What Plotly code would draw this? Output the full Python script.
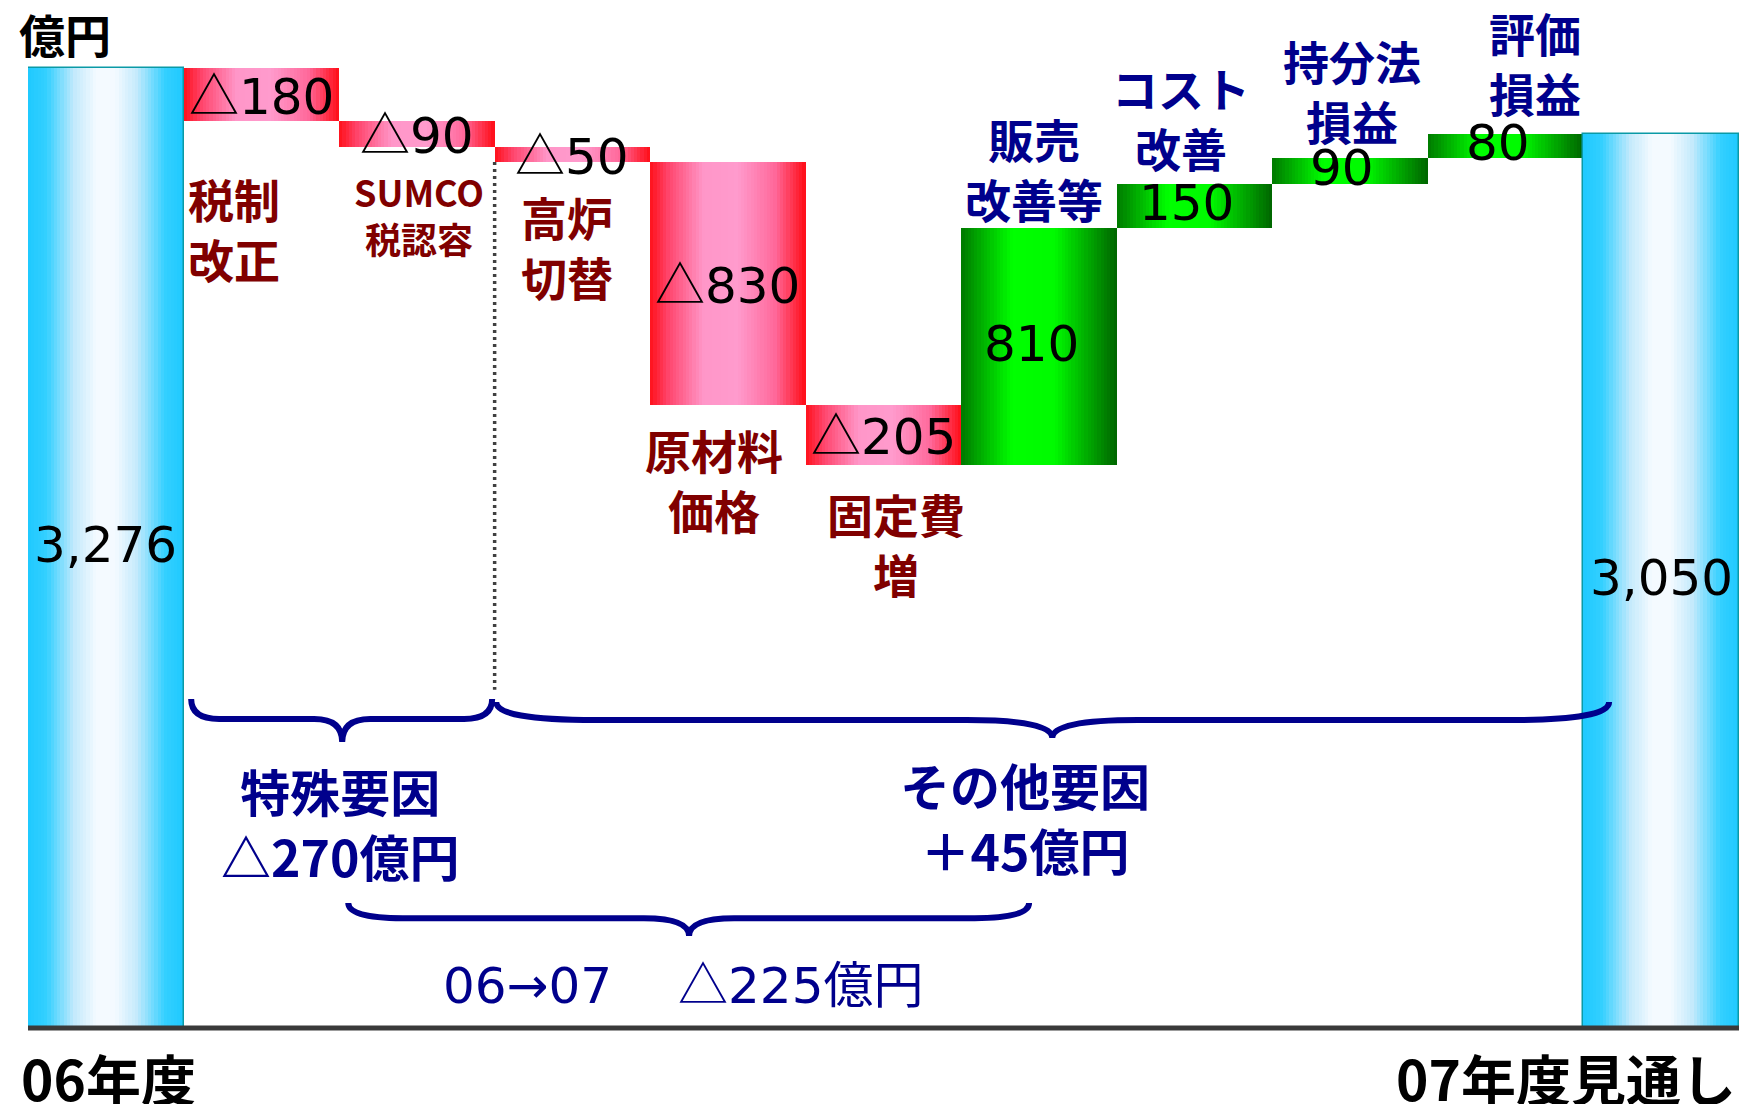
import plotly.graph_objects as go

# ---- data (億円) ----
steps = ["06年度", "税制改正", "SUMCO税認容", "高炉切替", "原材料価格", "固定費増",
         "販売改善等", "コスト改善", "持分法損益", "評価損益", "07年度見通し"]
start_total = 3276
changes = [-180, -90, -50, -830, -205, 810, 150, 90, 80]
end_total = 3050

factor_texts = ["税制<br>改正", "SUMCO<br>税認容", "高炉<br>切替", "原材料<br>価格", "固定費<br>増",
                "販売<br>改善等", "コスト<br>改善", "持分法<br>損益", "評価<br>損益"]
special_text = "特殊要因<br>△270億円"
other_text = "その他要因<br>＋45億円"
overall_text = "06→07　 △225億円"
unit_text = "億円"

# ---- waterfall geometry from the values ----
bases, heights, kinds = [0], [start_total], ["total"]
running = start_total
for c in changes:
    if c < 0:
        bases.append(running + c)
        heights.append(-c)
        kinds.append("down")
    else:
        bases.append(running)
        heights.append(c)
        kinds.append("up")
    running += c
bases.append(0)
heights.append(end_total)
kinds.append("total")
xs = list(range(len(steps)))

# horizontal colour profiles across each bar
GRADIENTS = {
    "total": [(0.0, (30, 201, 255)), (0.12, (52, 208, 255)), (0.30, (196, 234, 252)),
              (0.44, (244, 250, 255)), (0.56, (244, 250, 255)), (0.70, (196, 234, 252)),
              (0.88, (52, 208, 255)), (1.0, (30, 201, 255))],
    "down": [(0.0, (255, 16, 26)), (0.12, (255, 70, 110)), (0.34, (255, 150, 200)),
             (0.56, (255, 155, 205)), (0.80, (255, 105, 155)), (1.0, (255, 12, 22))],
    "up": [(0.0, (0, 122, 0)), (0.33, (0, 255, 0)), (0.60, (0, 250, 0)), (1.0, (0, 100, 0))],
}


def shade(kind, t):
    stops = GRADIENTS[kind]
    for (t0, c0), (t1, c1) in zip(stops, stops[1:]):
        if t0 <= t <= t1:
            f = (t - t0) / (t1 - t0)
            r, g, b = (round(a + (bb - a) * f) for a, bb in zip(c0, c1))
            return f"rgb({r},{g},{b})"
    return "rgb({},{},{})".format(*stops[-1][1])


fig = go.Figure()

# each bar is painted as thin vertical strips to give the gradient fill
N = 48
for k in range(N):
    off = -0.5 + k / N
    w = min(1.7 / N, 0.5 - off)
    t = (k + 0.5) / N
    fig.add_trace(go.Bar(
        x=xs, y=heights, base=bases,
        offset=off, width=w,
        marker=dict(color=[shade(kd, t) for kd in kinds], line=dict(width=0)),
        hoverinfo="skip", showlegend=False,
    ))

# thin outline on the two total bars
tot_idx = [i for i, kd in enumerate(kinds) if kd == "total"]
fig.add_trace(go.Bar(
    x=[xs[i] for i in tot_idx], y=[heights[i] for i in tot_idx], base=[bases[i] for i in tot_idx],
    width=1.0, marker=dict(color="rgba(0,0,0,0)", line=dict(color="#0a9aa6", width=1.5)),
    hoverinfo="skip", showlegend=False,
))

CJK = "Noto Sans CJK JP"
NUM = "DejaVu Sans, Noto Sans CJK JP"
NAVY = "#00008C"
DARKRED = "#800000"


def cjk_triangle(text):
    # draw the triangle mark with the full-width CJK glyph
    return text.replace("△", f"<span style='font-family:{CJK}'>△</span>")


annotations = []


def label(x, y, text, size, color, bold=False, xanchor="center", yanchor="middle",
          family=CJK, ref="data", yshift=0):
    annotations.append(dict(
        x=x, y=y, xref="x" if ref == "data" else "paper", yref="y" if ref == "data" else "paper",
        text=text, showarrow=False, xanchor=xanchor, yanchor=yanchor, yshift=yshift,
        font=dict(family=family, size=size, color=color, weight="bold" if bold else "normal"),
    ))


# value labels at bar centres
for i, kd in enumerate(kinds):
    if kd == "total":
        txt = f"{heights[i]:,}"
    elif kd == "down":
        txt = f"△{heights[i]}"
    else:
        txt = f"{heights[i]}"
    dx = -0.05 if kd == "up" else 0.0
    label(xs[i] + dx, bases[i] + heights[i] / 2, cjk_triangle(txt), 50, "black",
          family=NUM, yshift=3)

# factor names
factor_place = [
    (0.515, 2731, 46, DARKRED, "left"),
    (2.015, 2778, 36, DARKRED, "center"),
    (2.965, 2669, 46, DARKRED, "center"),
    (3.91, 1875, 46, DARKRED, "center"),
    (5.08, 1655, 46, DARKRED, "center"),
    (5.97, 2937, 46, NAVY, "center"),
    (6.91, 3111, 46, NAVY, "center"),
    (8.015, 3202, 46, NAVY, "center"),
    (9.19, 3298, 46, NAVY, "center"),
]
for txt, (x, y, sz, col, xa) in zip(factor_texts, factor_place):
    label(x, y, txt, sz, col, bold=True, xanchor=xa)

# summary texts
label(1.507, 700, special_text, 50, NAVY, bold=True)
label(5.91, 722, other_text, 50, NAVY, bold=True)
label(3.71, 160, cjk_triangle(overall_text), 50, NAVY, family=NUM)

# unit and period captions (positioned on the paper, outside the axes)
label(-0.0064, 0.968, unit_text, 46, "black", bold=True, xanchor="left", ref="paper")
label(-0.0053, -0.0477, steps[0], 55, "black", bold=True, xanchor="left", ref="paper")
label(0.9994, -0.0477, steps[-1], 55, "black", bold=True, xanchor="right", ref="paper")


def brace(x0, x1, xm, y_end, y_mid, y_tip, dxe, dxm):
    return (f"M {x0},{y_end} Q {x0},{y_mid} {x0 + dxe},{y_mid} "
            f"L {xm - dxm},{y_mid} Q {xm},{y_mid} {xm},{y_tip} "
            f"Q {xm},{y_mid} {xm + dxm},{y_mid} "
            f"L {x1 - dxe},{y_mid} Q {x1},{y_mid} {x1},{y_end}")


shapes = [
    # baseline along the bottom of the plot area
    dict(type="line", xref="paper", yref="paper", x0=0, x1=1, y0=0, y1=0,
         line=dict(color="#3a3a3a", width=5)),
    # divider between special and other factors
    dict(type="line", xref="x", yref="y", x0=2.5, x1=2.5,
         y0=start_total + sum(changes[:3]), y1=1155,
         line=dict(color="#404040", width=3.5, dash="3px,4px")),
]
for p in [brace(0.549, 2.484, 1.52, 1123, 1055, 976, 0.18, 0.18),
          brace(2.51, 9.665, 6.085, 1113, 1051, 990, 0.64, 0.55),
          brace(1.559, 5.936, 3.75, 427, 375, 314, 0.35, 0.29)]:
    shapes.append(dict(type="path", xref="x", yref="y", path=p,
                       line=dict(color=NAVY, width=6)))

fig.update_layout(
    width=1742, height=1104,
    margin=dict(l=28, r=3, t=0, b=76),
    barmode="overlay", bargap=0,
    plot_bgcolor="white", paper_bgcolor="white",
    xaxis=dict(range=[-0.5, 10.5], visible=False, fixedrange=True),
    yaxis=dict(range=[0, 3509], visible=False, fixedrange=True),
    annotations=annotations, shapes=shapes, showlegend=False,
)

fig.write_html("out.html")
